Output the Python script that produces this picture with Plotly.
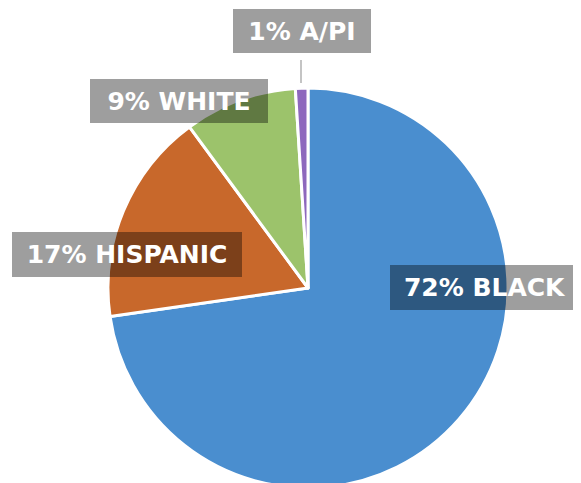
import plotly.graph_objects as go

# data
groups = ["BLACK", "HISPANIC", "WHITE", "A/PI"]
shares = [72, 17, 9, 1]
colors = ["#4A8ECF", "#C8682B", "#9CC36B", "#8D68BD"]

W, H = 581, 483
OFF = 8  # page body margin

# label boxes (pixel centers and sizes, as seen on screen)
label_boxes = {
    "BLACK": (485, 287.5, 190, 45),
    "HISPANIC": (127, 254.5, 230, 45),
    "WHITE": (179, 101, 178, 44),
    "A/PI": (302, 31, 138, 44),
}


def px_x(x):
    return (x - OFF) / W


def px_y(y):
    return 1 - (y - OFF) / H


fig = go.Figure(
    go.Pie(
        labels=groups,
        values=shares,
        sort=False,
        direction="clockwise",
        rotation=0,
        textinfo="none",
        hoverinfo="label+percent",
        marker=dict(colors=colors, line=dict(color="white", width=3)),
        domain=dict(x=[px_x(108), px_x(508)], y=[px_y(488), px_y(88)]),
        showlegend=False,
    )
)

for name, pct in zip(groups, shares):
    cx, cy, bw, bh = label_boxes[name]
    fig.add_annotation(
        x=px_x(cx), y=px_y(cy), xref="paper", yref="paper",
        xanchor="center", yanchor="middle",
        text=f"<b>{pct}% {name}</b>",
        showarrow=False,
        width=bw, height=bh,
        bgcolor="rgba(0,0,0,0.38)",
        borderpad=0, borderwidth=0,
        font=dict(family="DejaVu Sans", size=25, color="white"),
    )

# leader line for the small slice
fig.add_shape(
    type="line", xref="paper", yref="paper",
    x0=px_x(301), x1=px_x(301), y0=px_y(60), y1=px_y(83),
    line=dict(color="#c4c4c4", width=2),
)

fig.update_layout(
    width=W, height=H,
    margin=dict(l=0, r=0, t=0, b=0),
    paper_bgcolor="white",
    plot_bgcolor="white",
)

fig.write_html("out.html")
